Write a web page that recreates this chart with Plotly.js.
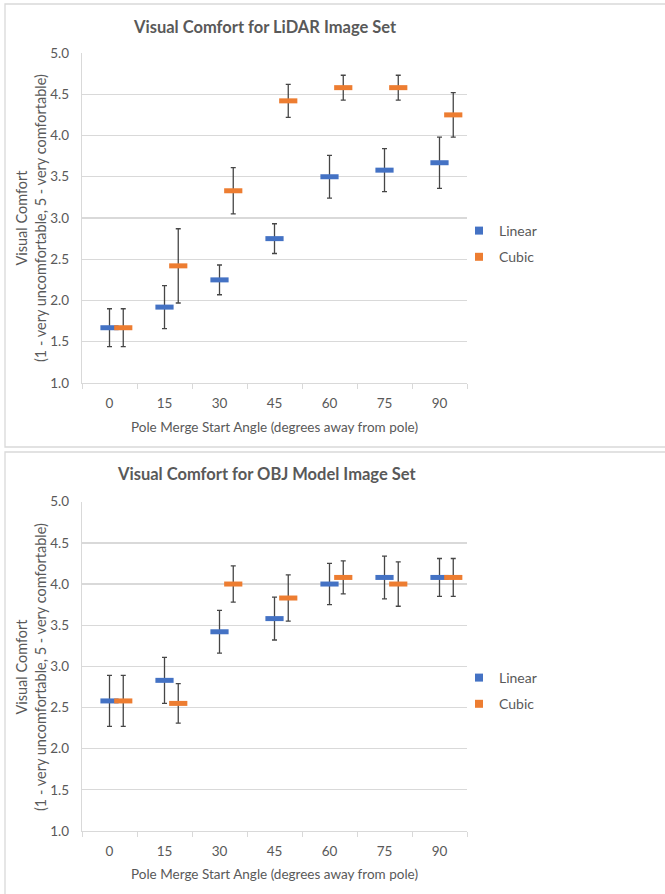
<!DOCTYPE html>
<html>
<head>
<meta charset="utf-8">
<script src="https://cdn.plot.ly/plotly-3.0.1.min.js"></script>
<style>
  html, body { margin: 0; padding: 0; background: #ffffff; }
  #chart { width: 665px; height: 894px; }
</style>
</head>
<body>
<div id="chart"></div>
<script>
// ---- Data ----
var categories = ['0', '15', '30', '45', '60', '75', '90'];
var seriesNames = ['Linear', 'Cubic'];

var lidarLinear    = [1.67, 1.92, 2.25, 2.75, 3.50, 3.58, 3.67];
var lidarLinearErr = [0.23, 0.26, 0.18, 0.18, 0.26, 0.26, 0.31];
var lidarCubic     = [1.67, 2.42, 3.33, 4.42, 4.58, 4.58, 4.25];
var lidarCubicErr  = [0.23, 0.45, 0.28, 0.20, 0.15, 0.15, 0.27];

var objLinear      = [2.58, 2.83, 3.42, 3.58, 4.00, 4.08, 4.08];
var objLinearErr   = [0.31, 0.28, 0.26, 0.26, 0.25, 0.26, 0.23];
var objCubic       = [2.58, 2.55, 4.00, 3.83, 4.08, 4.00, 4.08];
var objCubicErr    = [0.31, 0.24, 0.22, 0.28, 0.20, 0.27, 0.23];

var titles = ['Visual Comfort for LiDAR Image Set', 'Visual Comfort for OBJ Model Image Set'];
var xTitle = 'Pole Merge Start Angle (degrees away from pole)';
var yTitle = 'Visual Comfort<br>(1 - very uncomfortable, 5 - very comfortable)';

// ---- Style ----
var W = 665, H = 894;
var colors = ['#4472C4', '#ED7D31'];
var textColor = '#595959';
var gridColor = '#d9d9d9';
var errColor = 'rgba(50,50,50,0.9)';
var FONT = 'Lato, "Open Sans", sans-serif';
var seriesOffset = [0, 0.25];

function px(x) { return x / W; }
function py(y) { return 1 - y / H; }

var idx = categories.map(function (c, i) { return i; });
var boundaries = categories.concat(['']).map(function (c, i) { return i - 0.5; });

function makeTrace(vals, errs, s, xa, ya, legendName) {
  return {
    type: 'scatter', mode: 'markers',
    x: idx.map(function (i) { return i + seriesOffset[s]; }),
    y: vals,
    xaxis: xa, yaxis: ya,
    name: seriesNames[s], showlegend: false, legendgroup: legendName + s,
    marker: { symbol: 'line-ew', size: 13, color: colors[s], line: { color: colors[s], width: 5 } },
    error_y: { type: 'data', array: errs, visible: true, color: errColor, thickness: 1.3, width: 2.5 },
    cliponaxis: false
  };
}
function legendTrace(s, xa, ya, legendName) {
  return {
    type: 'scatter', mode: 'markers', x: [null], y: [null],
    xaxis: xa, yaxis: ya, name: seriesNames[s], legend: legendName,
    legendgroup: legendName + s, showlegend: true,
    marker: { symbol: 'square', size: 8, color: colors[s] }
  };
}

var data = [
  makeTrace(lidarLinear, lidarLinearErr, 0, 'x', 'y', 'legend'),
  makeTrace(lidarCubic, lidarCubicErr, 1, 'x', 'y', 'legend'),
  makeTrace(objLinear, objLinearErr, 0, 'x2', 'y2', 'legend2'),
  makeTrace(objCubic, objCubicErr, 1, 'x2', 'y2', 'legend2'),
  legendTrace(0, 'x', 'y', 'legend'),
  legendTrace(1, 'x', 'y', 'legend'),
  legendTrace(0, 'x2', 'y2', 'legend2'),
  legendTrace(1, 'x2', 'y2', 'legend2')
];

function xAxis(domainY, anchor) {
  return {
    domain: [px(82), px(467)], anchor: anchor,
    range: [-0.5, categories.length - 0.5],
    tickvals: idx, ticktext: categories, ticks: '',
    showgrid: false, zeroline: false,
    showline: true, linecolor: gridColor, linewidth: 1.3,
    tickfont: { family: FONT, size: 13.5, color: textColor },
    ticklabelstandoff: 7,
    minor: { tickvals: boundaries, ticks: 'outside', ticklen: 5, tickcolor: gridColor, tickwidth: 1, showgrid: false },
    fixedrange: true
  };
}
function yAxis(domainY, anchor) {
  return {
    domain: domainY, anchor: anchor,
    range: [1, 5], dtick: 0.5, tick0: 1, tickformat: '.1f',
    showgrid: true, gridcolor: gridColor, gridwidth: 1.3,
    zeroline: false, showline: true, linecolor: gridColor, linewidth: 1.3,
    ticks: '', ticklabelstandoff: 9,
    tickfont: { family: FONT, size: 13.5, color: textColor },
    fixedrange: true
  };
}

var topY = [py(383), py(53)];
var botY = [py(831), py(501.7)];

var legendCommon = {
  xanchor: 'left', yanchor: 'top', orientation: 'v',
  font: { family: FONT, size: 14, color: textColor },
  bgcolor: 'rgba(0,0,0,0)', tracegroupgap: 5, itemwidth: 30,
  itemclick: false, itemdoubleclick: false
};

var layout = {
  width: W, height: H,
  margin: { l: 0, r: 0, t: 0, b: 0, pad: 0 },
  paper_bgcolor: '#ffffff', plot_bgcolor: '#ffffff',
  showlegend: true,
  xaxis: xAxis(topY, 'y'),
  yaxis: yAxis(topY, 'x'),
  xaxis2: xAxis(botY, 'y2'),
  yaxis2: yAxis(botY, 'x2'),
  legend: Object.assign({ x: px(459), y: py(215) }, legendCommon),
  legend2: Object.assign({ x: px(459), y: py(662) }, legendCommon),
  shapes: [
    { type: 'rect', xref: 'paper', yref: 'paper', x0: px(5), x1: px(672), y0: py(447), y1: py(4),
      line: { color: gridColor, width: 1.3 }, layer: 'below' },
    { type: 'rect', xref: 'paper', yref: 'paper', x0: px(5), x1: px(672), y0: py(905), y1: py(452),
      line: { color: gridColor, width: 1.3 }, layer: 'below' }
  ],
  annotations: [
    { text: '<b>' + titles[0] + '</b>', xref: 'paper', yref: 'paper', x: px(265), y: py(27),
      xanchor: 'center', yanchor: 'middle', showarrow: false,
      font: { family: FONT, size: 16.5, color: textColor } },
    { text: '<b>' + titles[1] + '</b>', xref: 'paper', yref: 'paper', x: px(266), y: py(474),
      xanchor: 'center', yanchor: 'middle', showarrow: false,
      font: { family: FONT, size: 16.5, color: textColor } },
    { text: xTitle, xref: 'paper', yref: 'paper', x: px(274), y: py(427),
      xanchor: 'center', yanchor: 'middle', showarrow: false,
      font: { family: FONT, size: 13.5, color: textColor } },
    { text: xTitle, xref: 'paper', yref: 'paper', x: px(274), y: py(874),
      xanchor: 'center', yanchor: 'middle', showarrow: false,
      font: { family: FONT, size: 13.5, color: textColor } },
    { text: yTitle, xref: 'paper', yref: 'paper', x: px(31), y: py(218), textangle: -90,
      xanchor: 'center', yanchor: 'middle', showarrow: false,
      font: { family: FONT, size: 14.5, color: textColor } },
    { text: yTitle, xref: 'paper', yref: 'paper', x: px(31), y: py(667), textangle: -90,
      xanchor: 'center', yanchor: 'middle', showarrow: false,
      font: { family: FONT, size: 14.5, color: textColor } }
  ]
};

Plotly.newPlot('chart', data, layout, { staticPlot: true, displayModeBar: false });
</script>
</body>
</html>
